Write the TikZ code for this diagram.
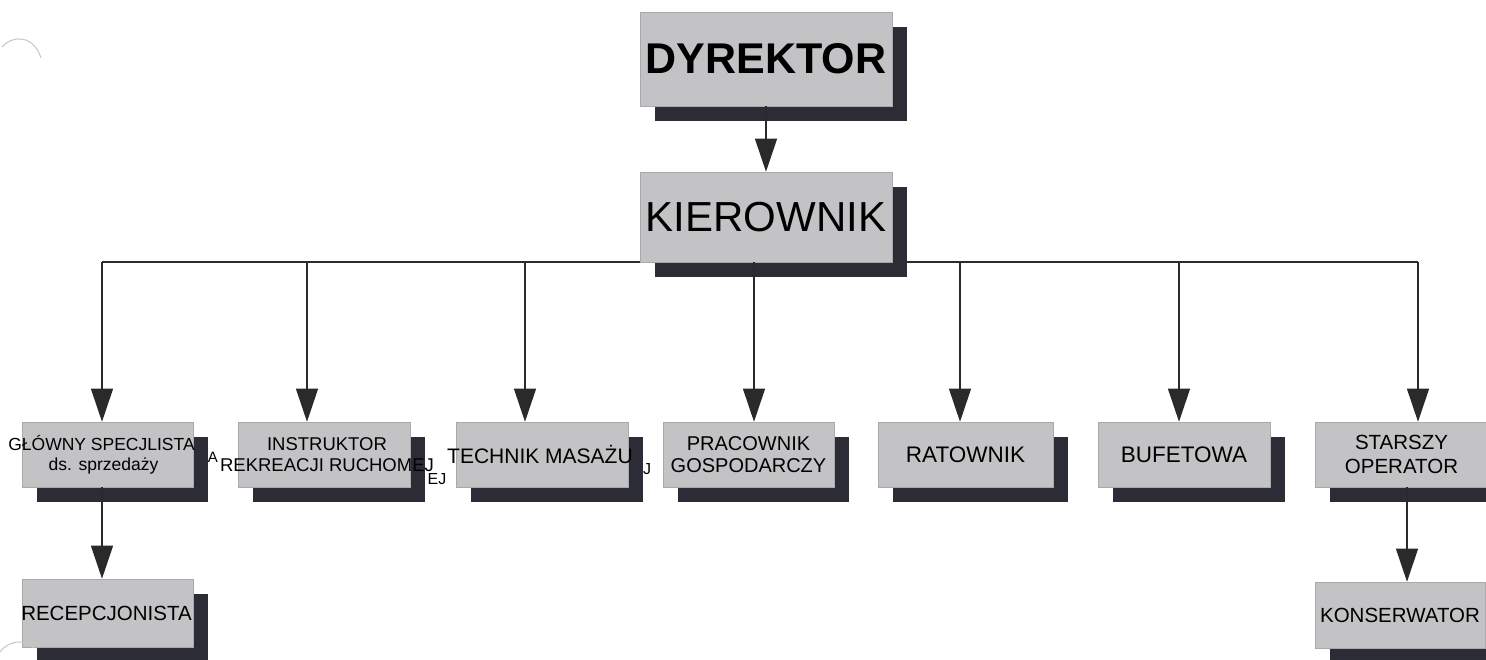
\documentclass[tikz,border=0pt]{standalone}
\usepackage{fontspec}
\setmainfont{Liberation Sans}
\usetikzlibrary{arrows.meta,shadows,backgrounds}
\definecolor{boxfill}{HTML}{C3C3C5}
\definecolor{boxedge}{HTML}{A9A9AB}
\definecolor{shadowcol}{HTML}{2C2C36}
\definecolor{linecol}{HTML}{2A2A2A}
\newcommand\zw[2][0]{\makebox[0pt]{\kern#1pt\kern#1pt #2}}
\tikzset{
  orgbox/.style={draw=boxedge, line width=0.6pt, fill=boxfill, inner sep=0pt,
    align=center, text=black,
    general shadow={fill=shadowcol, shadow xshift=15pt, shadow yshift=-15pt}},
  childbox/.style={orgbox, minimum height=65pt},
  conn/.style={draw=linecol, line width=1.1pt},
  arr/.style={conn, -{Triangle[length=33pt,width=22pt]}},
  ghost/.style={inner sep=0pt, text=black},
  scanmark/.style={draw=gray!45, line width=1pt}
}
\begin{document}
\begin{tikzpicture}[x=1pt,y=-1pt]
\clip (0,0) rectangle (1486,660);

% top boxes
\node[orgbox, minimum width=252pt, minimum height=94pt,
      font=\bfseries\fontsize{43}{43}\selectfont] (D) at (766,59) {\zw{DYREKTOR}};
\node[orgbox, minimum width=252pt, minimum height=90pt,
      font=\fontsize{42}{42}\selectfont] (K) at (766,217) {\zw{KIEROWNIK}};

% children
\node[childbox, minimum width=171pt, font=\fontsize{17.5}{20}\selectfont]
  (G) at (107.5,454.5) {\zw[-6]{GŁÓWNY SPECJLISTA}\\\zw[-4]{ds. sprzedaży}};
\node[childbox, minimum width=172pt, font=\fontsize{18.5}{21}\selectfont]
  (I) at (324,454.5) {\zw[3]{INSTRUKTOR}\\\zw[3]{REKREACJI RUCHOMEJ}};
\node[childbox, minimum width=172pt, font=\fontsize{21}{21}\selectfont]
  (T) at (542,454.5) {\zw[-2]{TECHNIK MASAŻU}};
\node[childbox, minimum width=171pt, font=\fontsize{20}{22}\selectfont]
  (P) at (748.5,454.5) {\zw{PRACOWNIK}\\\zw{GOSPODARCZY}};
\node[childbox, minimum width=175pt, font=\fontsize{22.5}{22.5}\selectfont]
  (R) at (965.5,454.5) {\zw{RATOWNIK}};
\node[childbox, minimum width=172pt, font=\fontsize{22.5}{22.5}\selectfont]
  (B) at (1184,454.5) {\zw{BUFETOWA}};
\node[childbox, minimum width=173pt, font=\fontsize{20.5}{23.5}\selectfont]
  (S) at (1401.5,454.5) {\zw{STARSZY}\\\zw{OPERATOR}};

% bottom boxes
\node[orgbox, minimum width=171pt, minimum height=68pt, font=\fontsize{20.5}{20.5}\selectfont]
  (Rec) at (107.5,613) {\zw[-1]{RECEPCJONISTA}};
\node[orgbox, minimum width=170pt, minimum height=66pt, font=\fontsize{20.5}{20.5}\selectfont]
  (Kon) at (1400,615) {\zw{KONSERWATOR}};

% ghost characters left by the original print
\node[ghost, font=\fontsize{15}{15}\selectfont] (gh1) at (213,457) {A};
\node[ghost, font=\fontsize{16}{16}\selectfont] (gh2) at (437,479) {EJ};
\node[ghost, font=\fontsize{16}{16}\selectfont] (gh3) at (647,469) {J};

% connector coordinates
\coordinate (gA) at (102,262);
\coordinate (iA) at (307,262);
\coordinate (tA) at (525,262);
\coordinate (pA) at (754,262);
\coordinate (rA) at (960,262);
\coordinate (bA) at (1179,262);
\coordinate (sA) at (1418,262);
\coordinate (sB) at (1407,500);

\begin{scope}[on background layer]
  \fill[white] (0,0) rectangle (1486,660);
  \draw[conn] (gA) -- (sA);
\end{scope}

\draw[arr] (D.south) -- (K.north);
\draw[arr] (gA) -- (gA |- G.north);
\draw[arr] (iA) -- (iA |- I.north);
\draw[arr] (tA) -- (tA |- T.north);
\draw[arr] (pA) -- (pA |- P.north);
\draw[arr] (rA) -- (rA |- R.north);
\draw[arr] (bA) -- (bA |- B.north);
\draw[arr] (sA) -- (sA |- S.north);
\draw[arr] (gA |- G.south) -- (gA |- Rec.north);
\draw[arr] (sB |- S.south) -- (sB |- Kon.north);

% scan marks (punch holes)
\draw[scanmark] (2,47) .. controls (14,34) and (34,36) .. (41,58);
\draw[scanmark] (0,652) .. controls (8,641) and (24,638) .. (34,648);
\end{tikzpicture}
\end{document}
